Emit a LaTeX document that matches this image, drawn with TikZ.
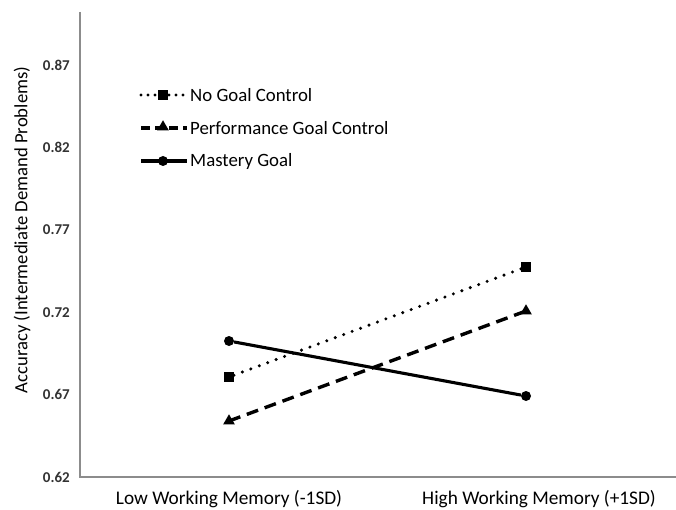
\documentclass[tikz,border=0pt]{standalone}
\usepackage{fontspec}
\setmainfont{Carlito}
\usetikzlibrary{shapes.geometric}
\begin{document}
\begin{tikzpicture}[x=1pt,y=-1pt,
  axisline/.style={draw=black!45,line width=1.6pt},
  ticklbl/.style={font=\fontsize{15}{16}\selectfont\bfseries,text=black!80,anchor=east,inner sep=0pt},
  catlbl/.style={font=\fontsize{19.3}{20}\selectfont,inner sep=0pt},
  leglbl/.style={font=\fontsize{18.8}{19}\selectfont,anchor=west,inner sep=0pt},
  sq/.style={rectangle,fill=black,minimum size=9.5pt,inner sep=0pt},
  tri/.style={regular polygon,regular polygon sides=3,fill=black,minimum size=13.5pt,inner sep=0pt},
  dot/.style={circle,fill=black,minimum size=10pt,inner sep=0pt},
  dotline/.style={line width=3.4pt,dash pattern=on 0pt off 9pt,line cap=round},
  dashline/.style={line width=3.4pt,dash pattern=on 12pt off 7pt},
  solidline/.style={line width=3.1pt}
]
\useasboundingbox (0,0) rectangle (676,510);
% axes
\coordinate (ytop) at (80,12);
\coordinate (orig) at (80,477);
\coordinate (xend) at (676,477);
\draw[axisline] (ytop) -- (orig) -- (xend);
% tick labels
\node[ticklbl] (t62) at (70,477) {0.62};
\node[ticklbl] (t67) at (70,394.6) {0.67};
\node[ticklbl] (t72) at (70,312.2) {0.72};
\node[ticklbl] (t77) at (70,229.8) {0.77};
\node[ticklbl] (t82) at (70,147.4) {0.82};
\node[ticklbl] (t87) at (70,65) {0.87};
% axis title
\node[font=\fontsize{18.7}{19}\selectfont,rotate=90,inner sep=0pt] (ytitle) at (22,230) {Accuracy (Intermediate Demand Problems)};
% category labels
\node[catlbl] (clow) at (229,499) {Low Working Memory (-1SD)};
\node[catlbl] (chigh) at (539,499) {High Working Memory (+1SD)};
% data
\node[sq] (nl) at (229,377) {};
\node[sq] (nh) at (526,267) {};
\node[tri] (pl) at (229,421) {};
\node[tri] (ph) at (526,311) {};
\node[dot] (ml) at (229,341) {};
\node[dot] (mh) at (526,396) {};
\draw[dotline] (nl) -- (nh);
\draw[dashline] (pl.center) -- (ph.center);
\draw[solidline] (ml) -- (mh);
% legend
\coordinate (l1a) at (141,95); \coordinate (l1b) at (187,95);
\coordinate (l2a) at (141,128); \coordinate (l2b) at (187,128);
\coordinate (l3a) at (141,161); \coordinate (l3b) at (187,161);
\draw[dotline,dash pattern=on 0pt off 7pt] (l1a) -- (l1b);
\draw[line width=3.4pt,dash pattern=on 9pt off 5pt] (l2a) -- (l2b);
\draw[solidline] (l3a) -- (l3b);
\node[sq] (k1) at (163,95) {};
\node[tri] (k2) at (163,127) {};
\node[dot] (k3) at (163,161) {};
\node[leglbl] (g1) at (190,95) {No Goal Control};
\node[leglbl] (g2) at (190,128) {Performance Goal Control};
\node[leglbl] (g3) at (190,161) {Mastery Goal};
\end{tikzpicture}
\end{document}
